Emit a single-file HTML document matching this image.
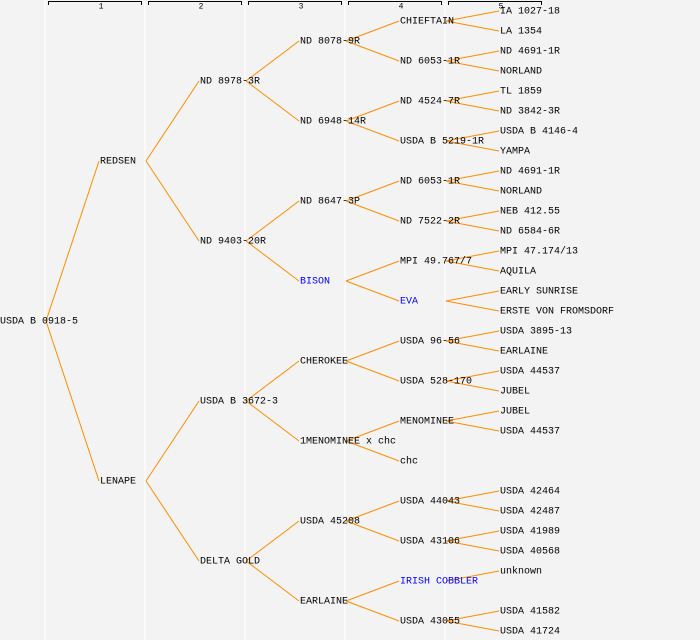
<!DOCTYPE html>
<html><head><meta charset="utf-8"><style>
html,body{margin:0;padding:0;background:#f3f3f3;}
svg{display:block;}
text{font-family:"Liberation Mono",monospace;font-size:10px;fill:#000;dominant-baseline:central;}
.b{fill:#0000ff;}
.h{font-size:8px;text-anchor:middle;}
</style></head><body>
<svg width="700" height="640" xmlns="http://www.w3.org/2000/svg">
<rect width="700" height="640" fill="#f3f3f3"/>
<g stroke="#ffffff" stroke-width="1.2">
<line x1="45" y1="0" x2="45" y2="640"/><line x1="145" y1="0" x2="145" y2="640"/><line x1="245" y1="0" x2="245" y2="640"/><line x1="345" y1="0" x2="345" y2="640"/><line x1="445" y1="0" x2="445" y2="640"/>
</g>
<g stroke="#000" stroke-width="1" fill="none">
<path d="M48.5 5V1.5H141.5V5"/><path d="M148.5 5V1.5H241.5V5"/><path d="M248.5 5V1.5H341.5V5"/><path d="M348.5 5V1.5H441.5V5"/><path d="M448.5 5V1.5H541.5V5"/>
</g>
<text class="h" x="101" y="7">1</text><text class="h" x="201" y="7">2</text><text class="h" x="301" y="7">3</text><text class="h" x="401" y="7">4</text><text class="h" x="501" y="7">5</text>
<path stroke="#ff8c00" stroke-width="1" fill="none" d="
M46 321L99 161M46 321L99 481
M146 161L199 81M146 161L199 241M146 481L199 401M146 481L199 561
M246 81L299 41M246 81L299 121M246 241L299 201M246 241L299 281M246 401L299 361M246 401L299 441M246 561L299 521M246 561L299 601
M346 41L399 21M346 41L399 61M346 121L399 101M346 121L399 141M346 201L399 181M346 201L399 221M346 281L399 261M346 281L399 301
M346 361L399 341M346 361L399 381M346 441L399 421M346 441L399 461M346 521L399 501M346 521L399 541M346 601L399 581M346 601L399 621
M446 21L499 11M446 21L499 31M446 61L499 51M446 61L499 71M446 101L499 91M446 101L499 111M446 141L499 131M446 141L499 151
M446 181L499 171M446 181L499 191M446 221L499 211M446 221L499 231M446 261L499 251M446 261L499 271M446 301L499 291M446 301L499 311
M446 341L499 331M446 341L499 351M446 381L499 371M446 381L499 391M446 421L499 411M446 421L499 431
M446 501L499 491M446 501L499 511M446 541L499 531M446 541L499 551M446 581L499 571M446 621L499 611M446 621L499 631"/>
<text x="0" y="322">USDA B 0918-5</text>
<text x="100" y="162">REDSEN</text><text x="100" y="482">LENAPE</text>
<text x="200" y="82">ND 8978-3R</text><text x="200" y="242">ND 9403-20R</text><text x="200" y="402">USDA B 3672-3</text><text x="200" y="562">DELTA GOLD</text>
<text x="300" y="42">ND 8078-9R</text><text x="300" y="122">ND 6948-14R</text><text x="300" y="202">ND 8647-3P</text><text x="300" y="282" class="b">BISON</text><text x="300" y="362">CHEROKEE</text><text x="300" y="442">1MENOMINEE x chc</text><text x="300" y="522">USDA 45208</text><text x="300" y="602">EARLAINE</text>
<text x="400" y="22">CHIEFTAIN</text><text x="400" y="62">ND 6053-1R</text><text x="400" y="102">ND 4524-7R</text><text x="400" y="142">USDA B 5219-1R</text><text x="400" y="182">ND 6053-1R</text><text x="400" y="222">ND 7522-2R</text><text x="400" y="262">MPI 49.767/7</text><text x="400" y="302" class="b">EVA</text><text x="400" y="342">USDA 96-56</text><text x="400" y="382">USDA 528-170</text><text x="400" y="422">MENOMINEE</text><text x="400" y="462">chc</text><text x="400" y="502">USDA 44043</text><text x="400" y="542">USDA 43106</text><text x="400" y="582" class="b">IRISH COBBLER</text><text x="400" y="622">USDA 43055</text>
<text x="500" y="12">IA 1027-18</text><text x="500" y="32">LA 1354</text><text x="500" y="52">ND 4691-1R</text><text x="500" y="72">NORLAND</text><text x="500" y="92">TL 1859</text><text x="500" y="112">ND 3842-3R</text><text x="500" y="132">USDA B 4146-4</text><text x="500" y="152">YAMPA</text><text x="500" y="172">ND 4691-1R</text><text x="500" y="192">NORLAND</text><text x="500" y="212">NEB 412.55</text><text x="500" y="232">ND 6584-6R</text><text x="500" y="252">MPI 47.174/13</text><text x="500" y="272">AQUILA</text><text x="500" y="292">EARLY SUNRISE</text><text x="500" y="312">ERSTE VON FROMSDORF</text><text x="500" y="332">USDA 3895-13</text><text x="500" y="352">EARLAINE</text><text x="500" y="372">USDA 44537</text><text x="500" y="392">JUBEL</text><text x="500" y="412">JUBEL</text><text x="500" y="432">USDA 44537</text><text x="500" y="492">USDA 42464</text><text x="500" y="512">USDA 42487</text><text x="500" y="532">USDA 41989</text><text x="500" y="552">USDA 40568</text><text x="500" y="572">unknown</text><text x="500" y="612">USDA 41582</text><text x="500" y="632">USDA 41724</text>
</svg>
</body></html>
